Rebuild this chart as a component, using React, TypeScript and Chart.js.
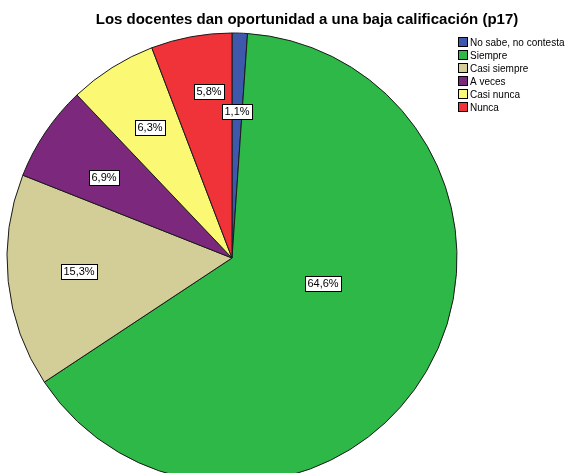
import React, { useEffect, useRef } from "react";
import { Chart, registerables } from "chart.js";

Chart.register(...registerables);

const TITLE = "Los docentes dan oportunidad a una baja calificación (p17)";
const categories = ["No sabe, no contesta", "Siempre", "Casi siempre", "A veces", "Casi nunca", "Nunca"];
const percentages = [1.1, 64.6, 15.3, 6.9, 6.3, 5.8];
const valueLabels = ["1,1%", "64,6%", "15,3%", "6,9%", "6,3%", "5,8%"];
const colors = ["#3E58AC", "#2EB848", "#D3CE97", "#7C287D", "#FBF873", "#EF3338"];
// label placement relative to pie centre, in units of the radius
const labelOffsets: [number, number][] = [
  [0.022, -0.653],
  [0.404, 0.111],
  [-0.68, 0.058],
  [-0.569, -0.36],
  [-0.364, -0.582],
  [-0.102, -0.742],
];

const FONT = "'Liberation Sans', Arial, sans-serif";

const overlay = {
  id: "overlay",
  afterDraw(chart: any) {
    const ctx = chart.ctx as CanvasRenderingContext2D;
    const meta = chart.getDatasetMeta(0);
    const arc0 = meta.data[0];
    const cx = arc0.x;
    const cy = arc0.y;
    const r = arc0.outerRadius;
    ctx.save();
    // value labels
    ctx.font = `11px ${FONT}`;
    ctx.textAlign = "center";
    ctx.textBaseline = "middle";
    meta.data.forEach((_a: any, i: number) => {
      const [fx, fy] = labelOffsets[i];
      const x = Math.round(cx + fx * r);
      const y = Math.round(cy + fy * r);
      const t = valueLabels[i];
      const w = Math.ceil(ctx.measureText(t).width) + 4;
      const h = 15;
      const bx = Math.round(x - w / 2) + 0.5;
      const by = Math.round(y - h / 2) + 0.5;
      ctx.fillStyle = "#ffffff";
      ctx.fillRect(bx, by, w, h);
      ctx.strokeStyle = "#000000";
      ctx.lineWidth = 1;
      ctx.strokeRect(bx, by, w, h);
      ctx.fillStyle = "#000000";
      ctx.fillText(t, x, y + 1);
    });
    // title
    ctx.font = `bold 15px ${FONT}`;
    ctx.textAlign = "center";
    ctx.textBaseline = "middle";
    ctx.fillStyle = "#000000";
    ctx.fillText(TITLE, 307, 20);
    // legend
    ctx.font = `10px ${FONT}`;
    ctx.textAlign = "left";
    categories.forEach((c, i) => {
      const y = 42 + i * 13;
      ctx.fillStyle = colors[i];
      ctx.fillRect(458.5, y - 4.5, 9, 9);
      ctx.strokeStyle = "#000000";
      ctx.strokeRect(458.5, y - 4.5, 9, 9);
      ctx.fillStyle = "#000000";
      ctx.fillText(c, 470, y + 1);
    });
    ctx.restore();
  },
};

export default function App() {
  const ref = useRef<HTMLCanvasElement | null>(null);
  useEffect(() => {
    if (!ref.current) return;
    const chart = new Chart(ref.current, {
      type: "pie",
      data: {
        labels: categories,
        datasets: [
          {
            data: percentages,
            backgroundColor: colors,
            borderColor: "#1a1a1a",
            borderWidth: 1,
          },
        ],
      },
      options: {
        animation: false,
        responsive: false,
        maintainAspectRatio: false,
        radius: 225,
        layout: { padding: { left: 7, top: 33, right: 113, bottom: 17 } },
        plugins: {
          legend: { display: false },
          title: { display: false },
          tooltip: { enabled: false },
        },
      } as any,
      plugins: [overlay],
    });
    return () => chart.destroy();
  }, []);
  return (
    <div style={{ position: "fixed", left: 0, top: 0, width: 570, height: 473, overflow: "hidden", background: "#fff" }}>
      <canvas ref={ref} width={570} height={500} style={{ display: "block" }} />
    </div>
  );
}
